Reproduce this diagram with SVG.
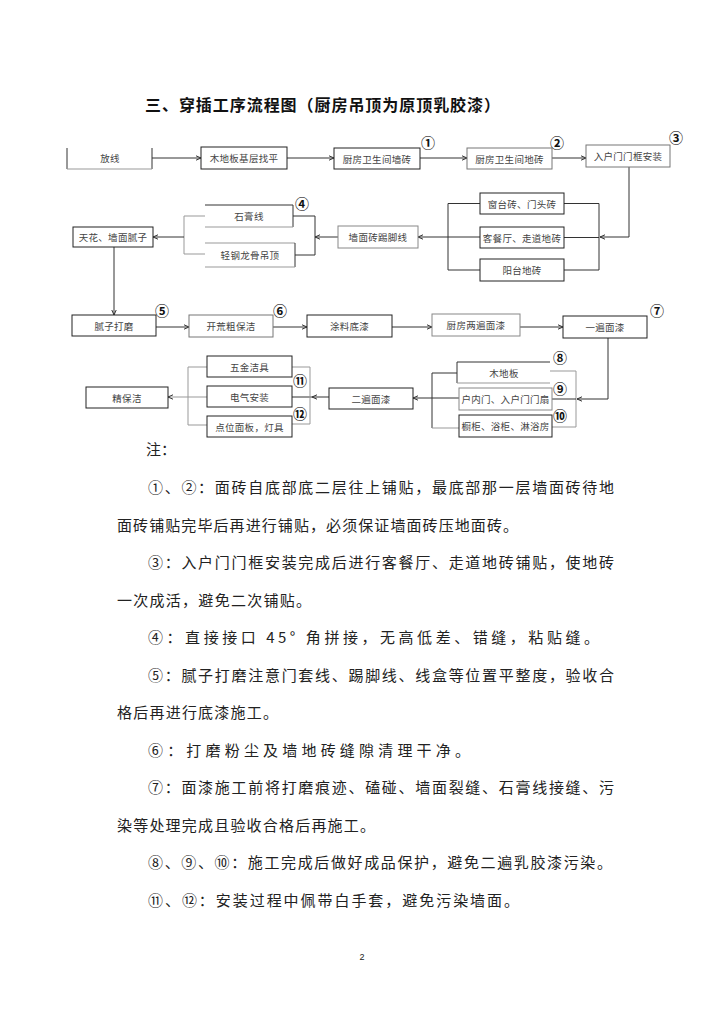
<svg xmlns="http://www.w3.org/2000/svg" width="724" height="1024" viewBox="0 0 724 1024">
<defs>
<style>
.bx{fill:#fff;stroke:#222;stroke-width:1}
.lt{stroke:#999;stroke-width:1;fill:none}
.ln{stroke:#333;stroke-width:1;fill:none}
.ar{stroke:#333;stroke-width:1;fill:none;marker-end:url(#ah)}
.lb{font-family:"Noto Sans CJK SC","Liberation Sans",sans-serif;font-size:9.5px;fill:#444;text-anchor:middle;dominant-baseline:central;letter-spacing:0.3px}
.cn{font-family:"Noto Sans CJK SC","DejaVu Sans",sans-serif;font-size:14px;font-weight:bold;fill:#111;text-anchor:middle;dominant-baseline:central}
.nt{font-family:"Noto Sans CJK SC","Liberation Serif",sans-serif;font-size:15px;fill:#222}
</style>
<marker id="ah" markerWidth="6" markerHeight="6" refX="5" refY="3" orient="auto" markerUnits="userSpaceOnUse">
<path d="M0,0.8 L5,3 L0,5.2" fill="none" stroke="#333" stroke-width="1"/>
</marker>
</defs>
<rect width="724" height="1024" fill="#fff"/>
<text x="145" y="111" font-family="Noto Sans CJK SC,sans-serif" font-size="16" font-weight="bold" fill="#111" textLength="355" lengthAdjust="spacing">三、穿插工序流程图（厨房吊顶为原顶乳胶漆）</text>

<g id="connectors">
<line class="ar" x1="152" y1="158" x2="201" y2="158"/>
<line class="ar" x1="287" y1="158" x2="334" y2="158"/>
<line class="ar" x1="420" y1="158" x2="467" y2="158"/>
<line class="ar" x1="552" y1="158" x2="586" y2="158"/>
<polyline class="ar" points="629,167 629,237 600,237"/>
<line class="ln" x1="599" y1="203.5" x2="599" y2="270"/>
<line class="ln" x1="564" y1="203.5" x2="599" y2="203.5"/>
<line class="ln" x1="564" y1="237.5" x2="599" y2="237.5"/>
<line class="ln" x1="564" y1="270" x2="599" y2="270"/>
<line class="ln" x1="448" y1="203.5" x2="448" y2="270"/>
<line class="ln" x1="448" y1="203.5" x2="480" y2="203.5"/>
<line class="ln" x1="448" y1="270" x2="480" y2="270"/>
<line class="ar" x1="480" y1="237" x2="418" y2="237"/>
<line class="ar" x1="338" y1="237" x2="315" y2="237"/>
<line class="ln" x1="315" y1="216" x2="315" y2="255"/>
<line class="ln" x1="293" y1="216" x2="315" y2="216"/>
<line class="ln" x1="295" y1="255" x2="315" y2="255"/>
<line class="lt" x1="184" y1="216" x2="184" y2="254"/>
<line class="lt" x1="184" y1="216" x2="205" y2="216"/>
<line class="lt" x1="184" y1="254" x2="205" y2="254"/>
<line class="ar" x1="184" y1="237" x2="153" y2="237"/>
<line class="ar" x1="114" y1="247" x2="114" y2="315"/>
<line class="ar" x1="156" y1="327" x2="189" y2="327"/>
<line class="ar" x1="273" y1="327" x2="307" y2="327"/>
<line class="ar" x1="392" y1="327" x2="432" y2="327"/>
<line class="ar" x1="520" y1="327" x2="563" y2="327"/>
<polyline class="ar" points="608,338 608,399 577,399"/>
<line class="lt" x1="576" y1="371" x2="576" y2="427"/>
<line class="lt" x1="550" y1="371" x2="576" y2="371"/>
<line class="ln" x1="552" y1="399" x2="576" y2="399"/>
<line class="lt" x1="552" y1="427" x2="576" y2="427"/>
<line class="ln" x1="432" y1="373" x2="432" y2="428"/>
<line class="ln" x1="432" y1="373" x2="457" y2="373"/>
<line class="lt" x1="432" y1="428" x2="459" y2="428"/>
<line class="ar" x1="459" y1="398" x2="413" y2="398"/>
<line class="ar" x1="329" y1="397" x2="312" y2="397"/>
<line class="ln" x1="312" y1="397" x2="292" y2="397"/>
<line class="lt" x1="310" y1="367" x2="310" y2="424"/>
<line class="lt" x1="292" y1="367" x2="310" y2="367"/>
<line class="lt" x1="292" y1="424" x2="310" y2="424"/>
<line class="lt" x1="188" y1="367" x2="188" y2="425"/>
<line class="lt" x1="188" y1="367" x2="207" y2="367"/>
<line class="lt" x1="188" y1="425" x2="207" y2="425"/>
<line class="ar" x1="207" y1="397" x2="168" y2="397" style="stroke:#999"/>
</g>

<g id="n-fangxian">
<line class="ln" x1="67" y1="148" x2="67" y2="169"/>
<line class="ln" x1="152" y1="148" x2="152" y2="169"/>
<line class="lt" x1="67" y1="169" x2="152" y2="169"/>
<text class="lb" x="110" y="158">放线</text>
</g>
<g id="n-jiceng"><rect class="bx" x="201" y="147" width="86" height="22"/><text class="lb" x="244" y="158">木地板基层找平</text></g>
<g id="n-qiangzhuan"><rect class="bx" x="334" y="148" width="86" height="21"/><text class="lb" x="377" y="158.5">厨房卫生间墙砖</text><text class="cn" x="428" y="142">①</text></g>
<g id="n-dizhuan"><rect class="bx" x="467" y="148" width="85" height="21" style="stroke:#777"/><text class="lb" x="509.5" y="158.5">厨房卫生间地砖</text><text class="cn" x="557" y="142">②</text></g>
<g id="n-menkuang"><rect class="bx" x="586" y="145" width="84" height="22" style="stroke:#777"/><text class="lb" x="628" y="156">入户门门框安装</text><text class="cn" x="676" y="137">③</text></g>

<g id="n-chuangtai"><rect class="bx" x="480" y="193" width="84" height="21"/><text class="lb" x="522" y="203.5">窗台砖、门头砖</text></g>
<g id="n-kecanting"><rect class="bx" x="480" y="227" width="84" height="21"/><text class="lb" x="522" y="237.5">客餐厅、走道地砖</text></g>
<g id="n-yangtai"><rect class="bx" x="480" y="259" width="84" height="22"/><text class="lb" x="522" y="270">阳台地砖</text></g>
<g id="n-tijiao"><rect class="bx" x="338" y="226" width="80" height="22" style="stroke:#888"/><text class="lb" x="378" y="237">墙面砖踢脚线</text></g>
<g id="n-shigao">
<line class="ln" x1="205" y1="205" x2="293" y2="205"/>
<line class="ln" x1="293" y1="205" x2="293" y2="227"/>
<line class="lt" x1="205" y1="227" x2="293" y2="227"/>
<text class="lb" x="249" y="216">石膏线</text><text class="cn" x="302" y="203">④</text>
</g>
<g id="n-diaoding">
<line class="lt" x1="205" y1="243" x2="295" y2="243"/>
<line class="ln" x1="295" y1="243" x2="295" y2="267"/>
<line class="lt" x1="205" y1="267" x2="295" y2="267"/>
<text class="lb" x="250" y="255">轻钢龙骨吊顶</text>
</g>
<g id="n-nizi"><rect class="bx" x="73" y="227" width="80" height="20"/><text class="lb" x="113" y="237">天花、墙面腻子</text></g>

<g id="n-damo"><rect class="bx" x="72" y="315" width="84" height="21"/><text class="lb" x="114" y="325.5">腻子打磨</text><text class="cn" x="162" y="310">⑤</text></g>
<g id="n-kaihuang"><rect class="bx" x="189" y="315" width="84" height="22" style="stroke:#777"/><text class="lb" x="231" y="326">开荒粗保洁</text><text class="cn" x="280" y="310">⑥</text></g>
<g id="n-diqi"><rect class="bx" x="307" y="315" width="85" height="22"/><text class="lb" x="349.5" y="326">涂料底漆</text></g>
<g id="n-chufang"><rect class="bx" x="432" y="314" width="88" height="22" style="stroke:#888"/><text class="lb" x="476" y="325">厨房两遍面漆</text></g>
<g id="n-yibian"><rect class="bx" x="563" y="316" width="84" height="22"/><text class="lb" x="605" y="327">一遍面漆</text><text class="cn" x="657" y="310">⑦</text></g>

<g id="n-mudiban">
<line class="ln" x1="457" y1="362" x2="550" y2="362"/>
<line class="ln" x1="457" y1="362" x2="457" y2="383"/>
<line class="lt" x1="457" y1="383" x2="550" y2="383"/>
<text class="lb" x="504" y="372.5">木地板</text><text class="cn" x="560" y="357">⑧</text>
</g>
<g id="n-menshan"><rect class="bx" x="459" y="388" width="93" height="22" style="stroke:#888"/><text class="lb" x="505.5" y="399">户内门、入户门门扇</text><text class="cn" x="560" y="388">⑨</text></g>
<g id="n-chugui"><rect class="bx" x="459" y="415" width="93" height="22"/><text class="lb" x="505.5" y="426">橱柜、浴柜、淋浴房</text><text class="cn" x="560" y="415">⑩</text></g>
<g id="n-erbian"><rect class="bx" x="329" y="388" width="84" height="21"/><text class="lb" x="371" y="398.5">二遍面漆</text></g>
<g id="n-wujin"><rect class="bx" x="207" y="356" width="85" height="21"/><text class="lb" x="249.5" y="366.5">五金洁具</text></g>
<g id="n-dianqi"><rect class="bx" x="207" y="386" width="85" height="21"/><text class="lb" x="249.5" y="396.5">电气安装</text><text class="cn" x="300" y="380">⑪</text></g>
<g id="n-mianban"><rect class="bx" x="207" y="416" width="85" height="21"/><text class="lb" x="249.5" y="426.5">点位面板，灯具</text><text class="cn" x="300" y="413">⑫</text></g>
<g id="n-jingbaojie"><rect class="bx" x="86" y="387" width="82" height="21"/><text class="lb" x="127" y="397.5">精保洁</text></g>

<g id="notes">
<text class="nt" x="146" y="455">注：</text>
<text class="nt" x="148" y="493" textLength="466" lengthAdjust="spacing">①、②：面砖自底部底二层往上铺贴，最底部那一层墙面砖待地</text>
<text class="nt" x="117" y="530.5" textLength="401" lengthAdjust="spacing">面砖铺贴完毕后再进行铺贴，必须保证墙面砖压地面砖。</text>
<text class="nt" x="148" y="568" textLength="466" lengthAdjust="spacing">③：入户门门框安装完成后进行客餐厅、走道地砖铺贴，使地砖</text>
<text class="nt" x="117" y="605.5" textLength="194" lengthAdjust="spacing">一次成活，避免二次铺贴。</text>
<text class="nt" x="148" y="643" textLength="451" lengthAdjust="spacing">④：直接接口 45° 角拼接，无高低差、错缝，粘贴缝。</text>
<text class="nt" x="148" y="680.5" textLength="466" lengthAdjust="spacing">⑤：腻子打磨注意门套线、踢脚线、线盒等位置平整度，验收合</text>
<text class="nt" x="117" y="718" textLength="161" lengthAdjust="spacing">格后再进行底漆施工。</text>
<text class="nt" x="148" y="755.5" textLength="322" lengthAdjust="spacing">⑥：打磨粉尘及墙地砖缝隙清理干净。</text>
<text class="nt" x="148" y="793" textLength="466" lengthAdjust="spacing">⑦：面漆施工前将打磨痕迹、磕碰、墙面裂缝、石膏线接缝、污</text>
<text class="nt" x="117" y="830.5" textLength="258" lengthAdjust="spacing">染等处理完成且验收合格后再施工。</text>
<text class="nt" x="148" y="868" textLength="464" lengthAdjust="spacing">⑧、⑨、⑩：施工完成后做好成品保护，避免二遍乳胶漆污染。</text>
<text class="nt" x="148" y="905.5" textLength="371" lengthAdjust="spacing">⑪、⑫：安装过程中佩带白手套，避免污染墙面。</text>
</g>
<text x="362" y="960" font-family="Liberation Sans,sans-serif" font-size="9" fill="#222" text-anchor="middle">2</text>
</svg>
